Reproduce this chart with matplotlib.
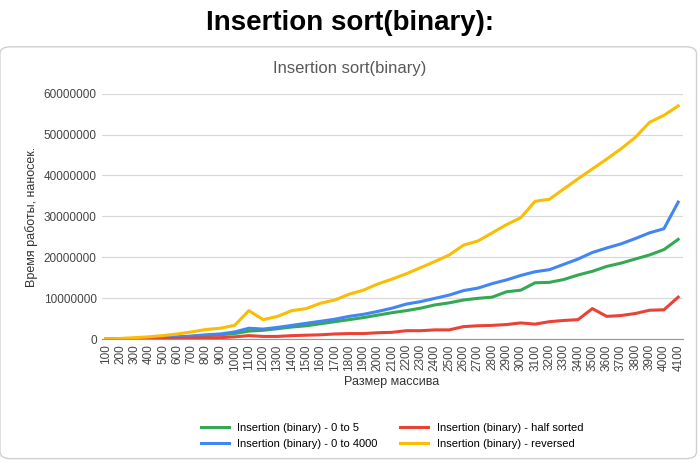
import numpy as np
import matplotlib.pyplot as plt
from matplotlib.patches import FancyBboxPatch

plt.rcParams['font.family'] = ['Liberation Sans', 'DejaVu Sans']

sizes = list(range(100, 4200, 100))

# values in millions of ns
zero_to_five = [0, 0.05, 0.1, 0.2, 0.3, 0.5, 0.7, 0.9, 1.1, 1.4, 2.0, 2.2, 2.6, 3.0, 3.3, 3.8, 4.3, 4.8,
                5.3, 5.9, 6.5, 7.0, 7.6, 8.4, 8.9, 9.6, 10.0, 10.3, 11.6, 12.0, 13.8, 13.9, 14.6,
                15.7, 16.6, 17.8, 18.6, 19.6, 20.6, 21.9, 24.4]
zero_to_4000 = [0, 0.05, 0.15, 0.25, 0.4, 0.6, 0.8, 1.1, 1.3, 1.8, 2.7, 2.5, 2.9, 3.4, 3.9, 4.4, 4.9, 5.6,
                6.1, 6.8, 7.6, 8.6, 9.2, 10.0, 10.8, 11.9, 12.5, 13.6, 14.5, 15.6, 16.5, 17.0, 18.3,
                19.6, 21.2, 22.3, 23.3, 24.6, 26.0, 27.0, 33.5]
half_sorted = [0, 0.02, 0.05, 0.1, 0.15, 0.2, 0.3, 0.35, 0.4, 0.6, 0.9, 0.7, 0.7, 0.9, 1.0, 1.1, 1.3, 1.4,
               1.4, 1.6, 1.7, 2.1, 2.1, 2.3, 2.3, 3.1, 3.3, 3.4, 3.6, 4.0, 3.7, 4.3, 4.6, 4.8, 7.5,
               5.6, 5.8, 6.3, 7.1, 7.2, 10.3]
reversed_ = [0, 0.2, 0.4, 0.6, 0.9, 1.3, 1.8, 2.4, 2.7, 3.4, 7.0, 4.8, 5.6, 7.0, 7.5, 8.8, 9.6, 11.0,
             12.0, 13.5, 14.7, 16.0, 17.5, 19.0, 20.6, 23.0, 24.0, 26.0, 28.0, 29.7, 33.7, 34.2,
             36.7, 39.2, 41.6, 44.0, 46.5, 49.3, 53.0, 54.7, 57.0]

fig = plt.figure(figsize=(7, 4.68), dpi=100)
fig.text(0.5, 0.935, "Insertion sort(binary):", ha="center", fontsize=20, fontweight="bold")
card = FancyBboxPatch((0.0, 0.02), 0.995, 0.88, boxstyle="round,pad=0,rounding_size=0.015",
                      transform=fig.transFigure, facecolor="white", edgecolor="#d0d0d0", lw=1,
                      zorder=-5)
fig.patches.append(card)
fig.text(0.5, 0.845, "Insertion sort(binary)", ha="center", fontsize=12, color="#595959")

ax = fig.add_axes([0.145, 0.275, 0.83, 0.525])
ax.patch.set_alpha(0)
x = np.arange(len(sizes))
series = [(zero_to_five, "#34a853", "Insertion (binary) - 0 to 5"),
          (zero_to_4000, "#4285f4", "Insertion (binary) - 0 to 4000"),
          (half_sorted, "#ea4335", "Insertion (binary) - half sorted"),
          (reversed_, "#fbbc04", "Insertion (binary) - reversed")]
for vals, c, lab in series:
    ax.plot(x, np.array(vals) * 1e6, color=c, lw=2.2, label=lab)

ax.set_xlim(-0.3, len(sizes) - 0.7)
ax.set_ylim(0, 60e6)
ax.set_yticks(np.arange(0, 60e6 + 1, 10e6))
ax.set_yticklabels([str(int(v)) for v in np.arange(0, 60e6 + 1, 10e6)], fontsize=8.5, color="#444444")
ax.set_xticks(x)
ax.set_xticklabels([str(s) for s in sizes], rotation=90, fontsize=8.5, color="#444444")
ax.grid(axis="y", color="#d9d9d9", lw=0.9)
ax.tick_params(length=0)
for s in ["top", "right", "left"]:
    ax.spines[s].set_visible(False)
ax.spines["bottom"].set_color("#999999")
ax.set_xlabel("Размер массива", fontsize=9, color="#333333")
ax.set_ylabel("Время работы, наносек.", fontsize=9, color="#333333")
ax.legend(loc="upper center", bbox_to_anchor=(0.5, -0.3), ncol=2, frameon=False,
          fontsize=8, handlelength=2.5, columnspacing=2)

fig.savefig("out.png", dpi=100)
